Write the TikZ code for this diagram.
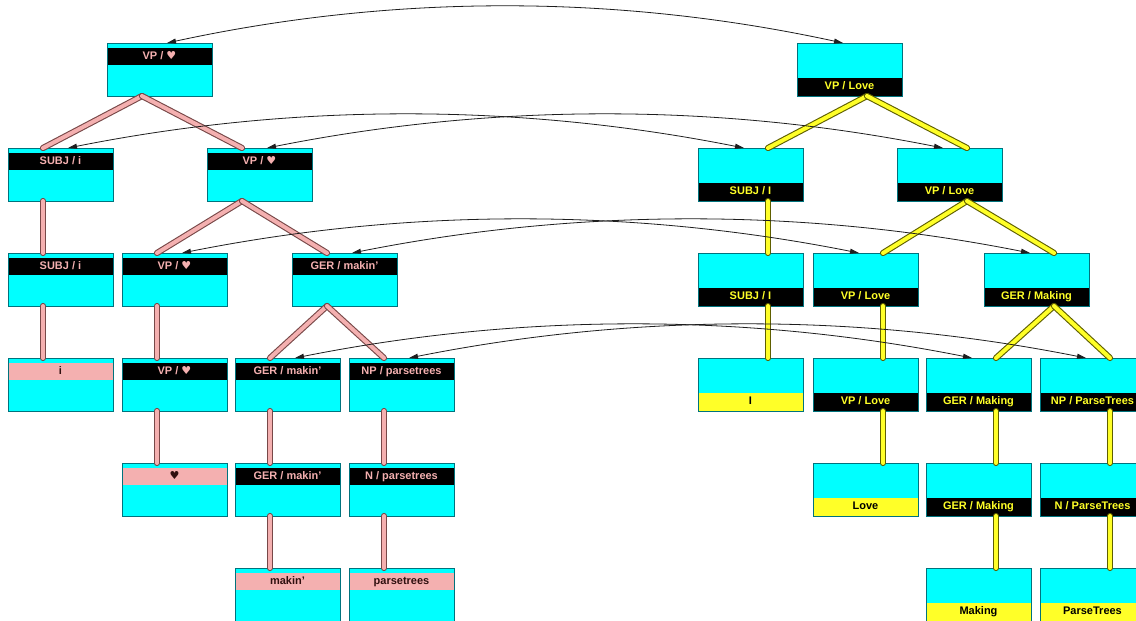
\documentclass[tikz,border=0pt]{standalone}
\usepackage{fontspec}
\setmainfont{Liberation Sans}
\newfontfamily\heartfont{DejaVu Sans}
\usetikzlibrary{calc,arrows.meta}

\definecolor{boxcyan}{RGB}{0,255,255}
\definecolor{boxedge}{RGB}{0,115,125}
\definecolor{rosy}{RGB}{244,176,176}
\definecolor{rosyline}{RGB}{120,72,72}
\definecolor{rosytext}{RGB}{48,16,16}
\definecolor{lemon}{RGB}{255,255,40}
\definecolor{lemonline}{RGB}{95,95,0}
\definecolor{linkgray}{RGB}{30,30,30}

\newcommand\hrt{{\heartfont\bfseries ♥}}

% box with the category band near the top (left tree)
\newcommand\lnode[5]{%
  \node[cbox] (#1) at (#2,#3) {};
  \node[#5] (#1-t) at ($(#1.north west)+(0.5,5)$) {#4};}
% box with the category band at the bottom (right tree)
\newcommand\rnode[5]{%
  \node[cbox] (#1) at (#2,#3) {};
  \node[#5] (#1-t) at ($(#1.north west)+(0.5,35)$) {#4};}
% tree edges
\newcommand\ledge[2]{\draw[pinkedge] ($(#1.south west)+(35,0)$) -- ($(#2.north west)+(35,0)$);}
\newcommand\redge[2]{\draw[yellowedge] ($(#1.south west)+(70,0)$) -- ($(#2.north west)+(70,0)$);}
% correspondence arcs between the two trees
\newcommand\xlinkarc[3]{\draw[xlink] ($(#1.north west)+(60,0)$) .. controls +(226,-#3) and +(-226,-#3) .. ($(#2.north west)+(46,0)$);}

\begin{document}
\begin{tikzpicture}[x=1pt,y=-1pt,
  font=\fontsize{11}{12}\selectfont\bfseries,
  cbox/.style={draw=boxedge, fill=boxcyan, line width=1pt, minimum width=105pt,
    minimum height=53pt, anchor=north west, inner sep=0pt, outer sep=0pt},
  band/.style={anchor=north west, minimum width=104pt, inner sep=0pt, outer sep=0pt,
    text height=8pt, text depth=2pt},
  lcat/.style={band, fill=black, text=rosy, minimum height=17pt},
  lword/.style={band, fill=rosy, text=rosytext, minimum height=17pt},
  rcat/.style={band, fill=black, text=lemon, minimum height=17.5pt},
  rword/.style={band, fill=lemon, text=black, minimum height=17.5pt},
  pinkedge/.style={draw=rosyline, double=rosy, double distance=4pt, line width=1.1pt, line cap=round},
  yellowedge/.style={draw=lemonline, double=lemon, double distance=4pt, line width=1.1pt, line cap=round},
  xlink/.style={draw=linkgray, line width=0.8pt,
    arrows={Triangle[length=9pt,width=5pt]-Triangle[length=9pt,width=5pt]}}]

\path[use as bounding box, clip] (0,0) rectangle (1136,621);
\fill[white] (0,0) rectangle (1136,621);

% left tree
\lnode{lvp0}{107}{43}{VP / \hrt}{lcat}
\lnode{lsubj1}{8}{148}{SUBJ / i}{lcat}
\lnode{lvp1}{207}{148}{VP / \hrt}{lcat}
\lnode{lsubj2}{8}{253}{SUBJ / i}{lcat}
\lnode{lvp2}{122}{253}{VP / \hrt}{lcat}
\lnode{lger2}{292}{253}{GER / makin'}{lcat}
\lnode{li3}{8}{358}{i}{lword}
\lnode{lvp3}{122}{358}{VP / \hrt}{lcat}
\lnode{lger3}{235}{358}{GER / makin'}{lcat}
\lnode{lnp3}{349}{358}{NP / parsetrees}{lcat}
\lnode{lh4}{122}{463}{\hrt}{lword}
\lnode{lger4}{235}{463}{GER / makin'}{lcat}
\lnode{ln4}{349}{463}{N / parsetrees}{lcat}
\lnode{lmak5}{235}{568}{makin'}{lword}
\lnode{lpt5}{349}{568}{parsetrees}{lword}

% right tree
\rnode{rvp0}{797}{43}{VP / Love}{rcat}
\rnode{rsubj1}{698}{148}{SUBJ / I}{rcat}
\rnode{rvp1}{897}{148}{VP / Love}{rcat}
\rnode{rsubj2}{698}{253}{SUBJ / I}{rcat}
\rnode{rvp2}{813}{253}{VP / Love}{rcat}
\rnode{rger2}{984}{253}{GER / Making}{rcat}
\rnode{ri3}{698}{358}{I}{rword}
\rnode{rvp3}{813}{358}{VP / Love}{rcat}
\rnode{rger3}{926}{358}{GER / Making}{rcat}
\rnode{rnp3}{1040}{358}{NP / ParseTrees}{rcat}
\rnode{rlove4}{813}{463}{Love}{rword}
\rnode{rger4}{926}{463}{GER / Making}{rcat}
\rnode{rn4}{1040}{463}{N / ParseTrees}{rcat}
\rnode{rmak5}{926}{568}{Making}{rword}
\rnode{rpt5}{1040}{568}{ParseTrees}{rword}

% left tree edges
\ledge{lvp0}{lsubj1}
\ledge{lvp0}{lvp1}
\ledge{lsubj1}{lsubj2}
\ledge{lvp1}{lvp2}
\ledge{lvp1}{lger2}
\ledge{lsubj2}{li3}
\ledge{lvp2}{lvp3}
\ledge{lger2}{lger3}
\ledge{lger2}{lnp3}
\ledge{lvp3}{lh4}
\ledge{lger3}{lger4}
\ledge{lnp3}{ln4}
\ledge{lger4}{lmak5}
\ledge{ln4}{lpt5}

% right tree edges
\redge{rvp0}{rsubj1}
\redge{rvp0}{rvp1}
\redge{rsubj1}{rsubj2}
\redge{rvp1}{rvp2}
\redge{rvp1}{rger2}
\redge{rsubj2}{ri3}
\redge{rvp2}{rvp3}
\redge{rger2}{rger3}
\redge{rger2}{rnp3}
\redge{rvp3}{rlove4}
\redge{rger3}{rger4}
\redge{rnp3}{rn4}
\redge{rger4}{rmak5}
\redge{rn4}{rpt5}

% correspondences
\xlinkarc{lvp0}{rvp0}{49}
\xlinkarc{lsubj1}{rsubj1}{45}
\xlinkarc{lvp1}{rvp1}{45}
\xlinkarc{lvp2}{rvp2}{45}
\xlinkarc{lger2}{rger2}{45}
\xlinkarc{lger3}{rger3}{45}
\xlinkarc{lnp3}{rnp3}{45}
\end{tikzpicture}
\end{document}
